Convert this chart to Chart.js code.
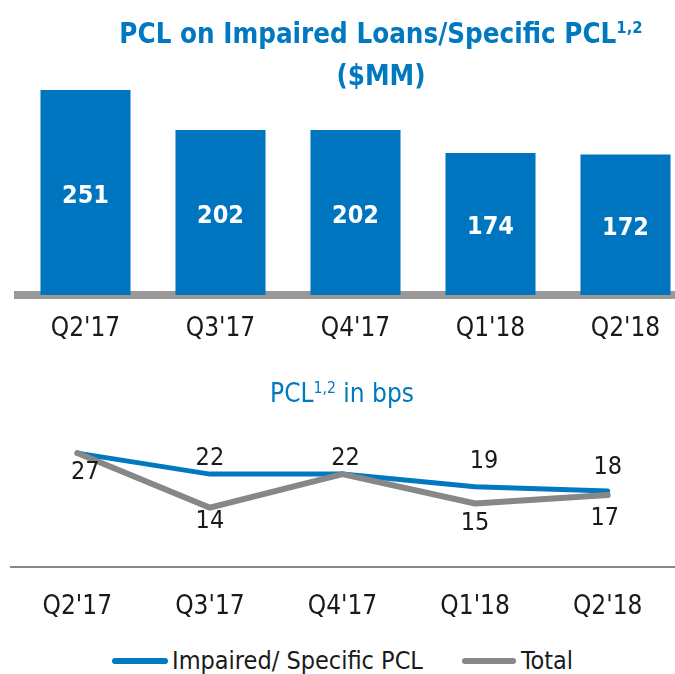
<!DOCTYPE html>
<html>
<head>
<meta charset="utf-8">
<script src="https://cdn.jsdelivr.net/npm/chart.js@4.4.1/dist/chart.umd.min.js"></script>
<style>
  html, body { margin: 0; padding: 0; background: #fff; }
  body { width: 675px; height: 674px; overflow: hidden; position: relative;
         font-family: "Liberation Sans Narrow", "DejaVu Sans Condensed", "Open Sans", sans-serif; }
  .title { position: absolute; color: #0079c1; text-align: center; white-space: nowrap; }
  .title sup { font-size: 0.6em; vertical-align: 0.6em; line-height: 0; }
  #t1 { left: 81px; width: 600px; top: 12px; font-size: 27.5px; line-height: 42px; font-weight: bold; }
  #t2 { left: 142px; width: 400px; top: 376px; font-size: 26px; line-height: 34px; }
  #barBox { position: absolute; left: 0; top: 0; width: 693px; height: 343px; }
  #lineBox { position: absolute; left: 0; top: 400px; width: 675px; height: 230px; }
  .sw { position: absolute; height: 6px; border-radius: 3px; top: 658px; }
  .lg { position: absolute; font-size: 25px; line-height: 30px; top: 646px; color: #1a1a1a; }
</style>
</head>
<body>
<div id="barBox"><canvas id="bar"></canvas></div>
<div class="title" id="t1">PCL on Impaired Loans/Specific PCL<sup>1,2</sup><br>($MM)</div>
<div id="lineBox"><canvas id="line"></canvas></div>
<div class="title" id="t2">PCL<sup>1,2</sup> in bps</div>
<div class="sw" style="left:112px;width:56px;background:#0079c1"></div>
<div class="lg" style="left:172px">Impaired/ Specific PCL</div>
<div class="sw" style="left:462px;width:54px;background:#878787"></div>
<div class="lg" style="left:521px">Total</div>
<script>
const FONT = '"Liberation Sans Narrow", "DejaVu Sans Condensed", "Open Sans", sans-serif';
const BLUE = '#0079c1';
const GRAY = '#878787';

const quarters = ["Q2'17", "Q3'17", "Q4'17", "Q1'18", "Q2'18"];
const pclMM = [251, 202, 202, 174, 172];
const impairedBps = [27, 22, 22, 19, 18];
const totalBps = [27, 14, 22, 15, 17];

// value written inside each bar
const barLabels = {
  id: 'barLabels',
  afterDatasetsDraw(chart) {
    const ctx = chart.ctx;
    const ds = chart.data.datasets[0];
    ctx.save();
    ctx.font = `bold 25px ${FONT}`;
    ctx.fillStyle = '#fff';
    ctx.textAlign = 'center';
    ctx.textBaseline = 'middle';
    chart.getDatasetMeta(0).data.forEach((bar, i) => {
      ctx.fillText(ds.data[i], bar.x, (bar.y + bar.base) / 2 + 4);
    });
    ctx.restore();
  }
};

// point labels, offset per point as placed on the slide
const pointLabels = {
  id: 'pointLabels',
  afterDatasetsDraw(chart) {
    const ctx = chart.ctx;
    ctx.save();
    ctx.font = `25px ${FONT}`;
    ctx.fillStyle = '#1a1a1a';
    ctx.textAlign = 'center';
    ctx.textBaseline = 'middle';
    chart.data.datasets.forEach((ds, di) => {
      chart.getDatasetMeta(di).data.forEach((pt, i) => {
        const off = ds.labelOffsets[i];
        if (!off) return;
        ctx.fillText(ds.data[i], pt.x + off[0], pt.y + off[1]);
      });
    });
    ctx.restore();
  }
};

new Chart(document.getElementById('bar'), {
  type: 'bar',
  data: {
    labels: quarters,
    datasets: [{
      data: pclMM,
      backgroundColor: '#0075bf',
      borderWidth: 0,
      categoryPercentage: 1,
      barPercentage: 0.667,
    }]
  },
  options: {
    responsive: true,
    maintainAspectRatio: false,
    animation: false,
    layout: { padding: { top: 82.65, left: 18, right: 0, bottom: 0 } },
    plugins: { legend: { display: false }, tooltip: { enabled: false } },
    scales: {
      y: { display: false, min: 0, max: 260 },
      x: {
        z: 1,
        grid: { display: false, drawTicks: false },
        border: { display: true, color: '#999999', width: 8 },
        ticks: { color: '#1a1a1a', font: { family: FONT, size: 26 }, padding: 19 },
        afterFit: s => { s.height = 48; },
      }
    }
  },
  plugins: [barLabels]
});

new Chart(document.getElementById('line'), {
  type: 'line',
  data: {
    labels: quarters,
    datasets: [
      {
        label: 'Impaired/ Specific PCL',
        data: impairedBps,
        borderColor: BLUE,
        borderWidth: 5,
        order: 1,
        labelOffsets: [null, [0, -16], [3, -16], [9, -25], [0, -23]],
      },
      {
        label: 'Total',
        data: totalBps,
        borderColor: GRAY,
        borderWidth: 6,
        order: 0,
        labelOffsets: [[8, 19], [0, 14], null, [0, 20], [-3, 23]],
      }
    ]
  },
  options: {
    responsive: true,
    maintainAspectRatio: false,
    animation: false,
    layout: { padding: { top: 40.5, left: 11, right: 1, bottom: 0 } },
    elements: {
      line: { tension: 0, borderCapStyle: 'round', borderJoinStyle: 'round' },
      point: { radius: 0, hoverRadius: 0 }
    },
    plugins: { legend: { display: false }, tooltip: { enabled: false } },
    scales: {
      y: { display: false, min: 0, max: 30 },
      x: {
        offset: true,
        grid: { display: false, drawTicks: false },
        border: { display: true, color: '#888888', width: 2 },
        ticks: { color: '#1a1a1a', font: { family: FONT, size: 26 }, padding: 25 },
        afterFit: s => { s.height = 63.5; },
      }
    }
  },
  plugins: [pointLabels]
});
</script>
</body>
</html>
